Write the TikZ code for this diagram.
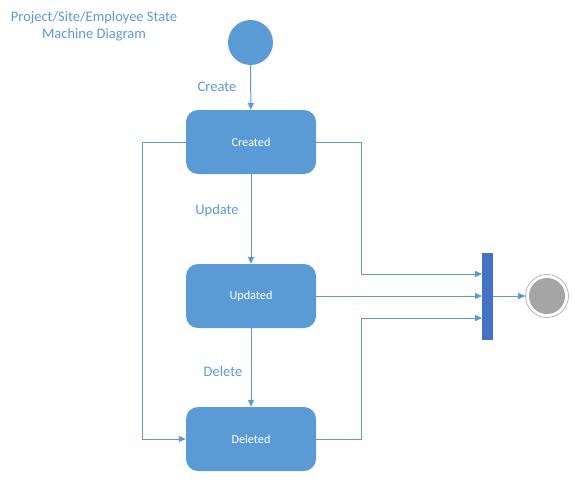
\documentclass[tikz,border=0pt]{standalone}
\usepackage{fontspec}
\setmainfont{Carlito}
\usetikzlibrary{arrows.meta}
\definecolor{boxblue}{HTML}{5B9BD5}
\definecolor{barblue}{HTML}{4472C4}
\definecolor{endgrey}{HTML}{A5A5A5}
\definecolor{linegrey}{HTML}{A5A5A5}
\begin{document}
\begin{tikzpicture}[x=1pt,y=-1pt,
  statebox/.style={draw=none,fill=boxblue,rounded corners=12pt,minimum width=130pt,minimum height=64pt,text=white,font=\fontsize{12.2}{14}\selectfont,inner sep=0pt},
  lbl/.style={text=boxblue,font=\fontsize{14.5}{17}\selectfont},
  conn/.style={draw=boxblue,line width=1pt,-{Triangle[length=7pt,width=6pt]}},
  plain/.style={draw=boxblue,line width=1pt}]
\useasboundingbox (0,0) rectangle (578,482);
\node[lbl,align=center,font=\fontsize{14.5}{17.5}\selectfont] (title) at (94,26) {Project/Site/Employee State\\Machine Diagram};
\node[circle,fill=boxblue,minimum size=45pt,inner sep=0pt] (start) at (250.5,42.5) {};
\node[statebox] (created) at (251,142) {Created};
\node[statebox] (updated) at (251,296) {Updated};
\node[statebox] (deleted) at (251,439) {Deleted};
\node[draw=none,fill=barblue,minimum width=10.5pt,minimum height=87pt,inner sep=0pt] (bar) at (487.5,296.5) {};
\node[circle,draw=linegrey,line width=0.6pt,minimum size=43pt,inner sep=0pt] (endo) at (547,296) {};
\node[circle,fill=endgrey,minimum size=36pt,inner sep=0pt] (endi) at (547,296) {};
\node[lbl] (lcreate) at (217,87) {Create};
\node[lbl] (lupdate) at (217,211) {Update};
\node[lbl] (ldelete) at (223,372) {Delete};
\coordinate (c1) at (361,142);
\coordinate (c2) at (361,274);
\coordinate (c3) at (361,439);
\coordinate (c4) at (361,318);
\coordinate (c5) at (142,142);
\coordinate (c6) at (142,439);
\draw[conn] (start) -- (created);
\draw[conn] (created) -- (updated);
\draw[conn] (updated) -- (deleted);
\draw[conn] (created.east) -- (c1) -- (c2) -- (bar.west |- c2);
\draw[conn] (updated.east) -- (bar.west |- updated.east);
\draw[conn] (deleted.east) -- (c3) -- (c4) -- (bar.west |- c4);
\draw[conn] (created.west) -- (c5) -- (c6) -- (deleted.west);
\draw[conn] (bar.east |- endo.west) -- (endo.west);
\end{tikzpicture}
\end{document}
